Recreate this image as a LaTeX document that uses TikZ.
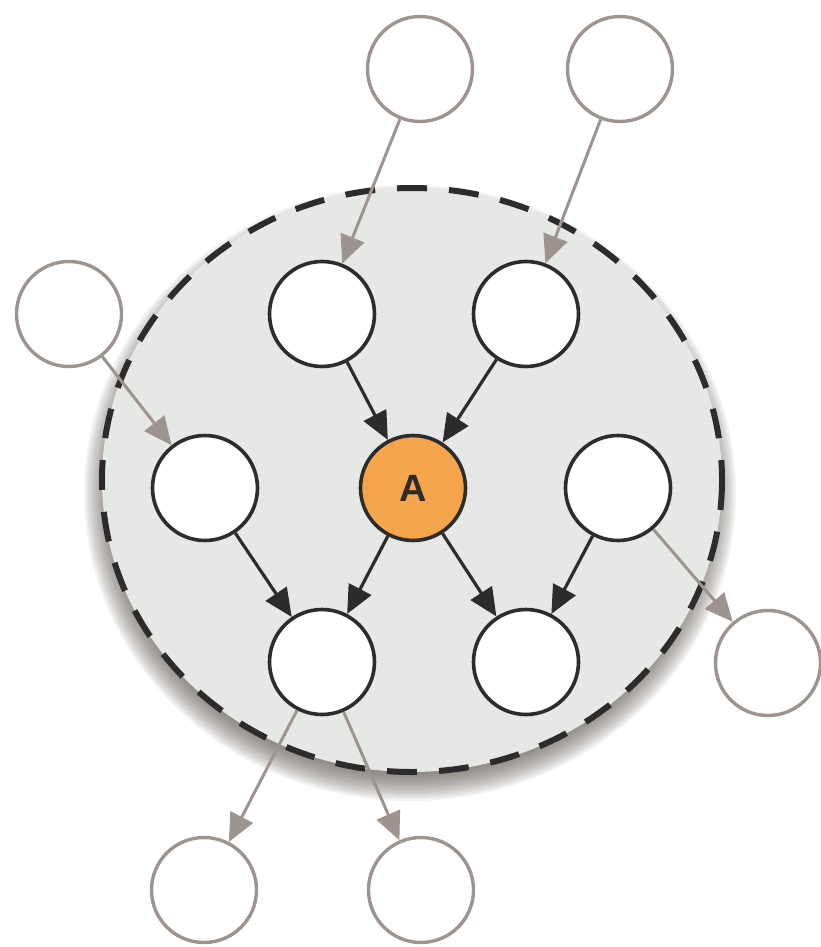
\documentclass[tikz,border=0pt]{standalone}
\usepackage{fontspec}
\setmainfont{Liberation Sans}
\usetikzlibrary{arrows.meta}
\definecolor{bgfill}{HTML}{E6E8E5}
\definecolor{dk}{HTML}{2E2B2C}
\definecolor{gr}{HTML}{9E948F}
\definecolor{orng}{HTML}{F5A54C}
\definecolor{shd}{HTML}{5E5550}
\begin{document}
\begin{tikzpicture}[x=1pt,y=-1pt,
  innernode/.style={circle,draw=dk,fill=white,line width=3.6pt,minimum size=105pt,inner sep=0pt},
  outernode/.style={circle,draw=gr,fill=white,line width=3.4pt,minimum size=105pt,inner sep=0pt},
  darr/.style={draw=dk,line width=3.2pt,-{Triangle[length=28pt,width=25pt]}},
  garr/.style={draw=gr,line width=3pt,-{Triangle[length=28pt,width=25pt]}}]
\useasboundingbox (0,0) rectangle (821,947);
\fill[white] (0,0) rectangle (821,947);
% shadow of the region
\foreach \i in {0,...,14} {
  \fill[shd,opacity=0.07] (410,493) ellipse ({298+2*\i} and {280+2*\i});
}
% region
\fill[bgfill] (412,480) ellipse (310 and 292);
\draw[dk,line width=6pt,dash pattern=on 30pt off 22pt] (412,480) ellipse (310 and 292);
% nodes
\node[outernode] (t1) at (420,69) {};
\node[outernode] (t2) at (620,69) {};
\node[outernode] (lo) at (69,314) {};
\node[outernode] (ro) at (768,663) {};
\node[outernode] (b1) at (204,890) {};
\node[outernode] (b2) at (421,890) {};
\node[innernode] (tl) at (322,314) {};
\node[innernode] (tr) at (526,314) {};
\node[innernode] (li) at (205,488) {};
\node[innernode] (ri) at (618,488) {};
\node[innernode] (bl) at (322,662) {};
\node[innernode] (br) at (526,662) {};
\node[innernode,fill=orng,text=dk] (A) at (413,488) {\fontsize{38}{42}\selectfont\bfseries A};
% connectors
\draw[garr] (t1) -- (tl);
\draw[garr] (t2) -- (tr);
\draw[garr] (lo) -- (li);
\draw[garr] (ri) -- (ro);
\draw[garr] (bl) -- (b1);
\draw[garr] (bl) -- (b2);
\draw[darr] (tl) -- (A);
\draw[darr] (tr) -- (A);
\draw[darr] (li) -- (bl);
\draw[darr] (A) -- (bl);
\draw[darr] (A) -- (br);
\draw[darr] (ri) -- (br);
\end{tikzpicture}
\end{document}
